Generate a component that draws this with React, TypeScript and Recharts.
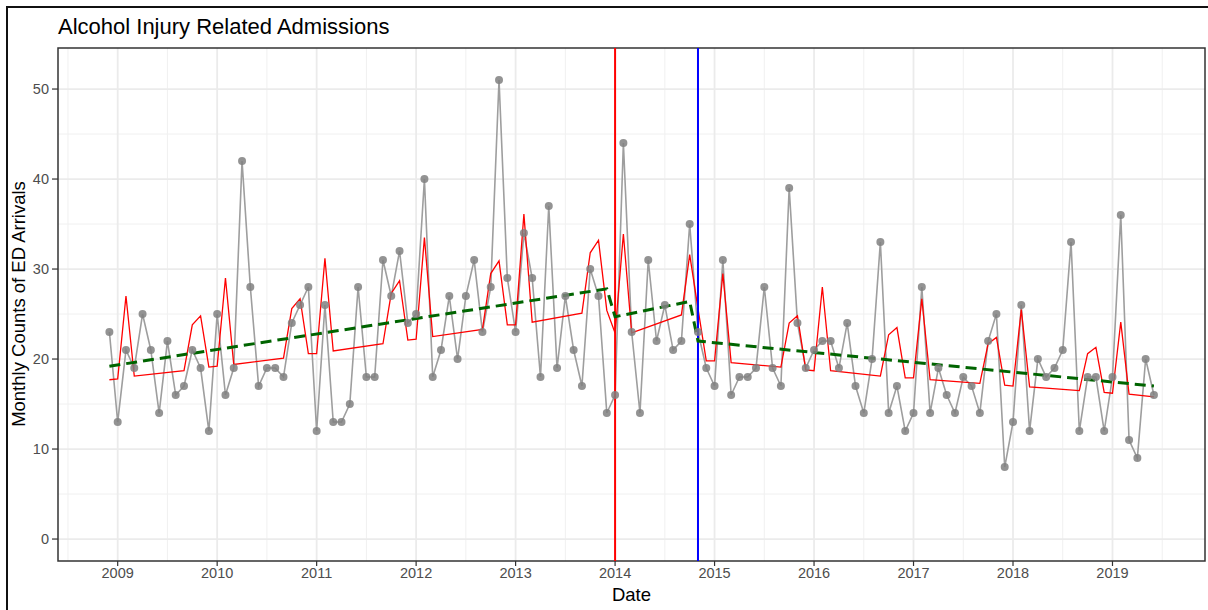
import React from 'react';
import { ComposedChart, Line, XAxis, YAxis, CartesianGrid, ReferenceLine, ReferenceArea } from 'recharts';

// monthly ED arrivals, first month is Dec 2008
const startYear = 2008;
const startMonth = 12;

const arrivals = [
  23, // 2008-12
  13, 21, 19, 25, 21, 14, 22, 16, 17, 21, 19, 12, // 2009
  25, 16, 19, 42, 28, 17, 19, 19, 18, 24, 26, 28, // 2010
  12, 26, 13, 13, 15, 28, 18, 18, 31, 27, 32, 24, // 2011
  25, 40, 18, 21, 27, 20, 27, 31, 23, 28, 51, 29, // 2012
  23, 34, 29, 18, 37, 19, 27, 21, 17, 30, 27, 14, // 2013
  16, 44, 23, 14, 31, 22, 26, 21, 22, 35, 23, 19, // 2014
  17, 31, 16, 18, 18, 19, 28, 19, 17, 39, 24, 19, // 2015
  21, 22, 22, 19, 24, 17, 14, 20, 33, 14, 17, 12, // 2016
  14, 28, 14, 19, 16, 14, 18, 17, 14, 22, 25, 8, // 2017
  13, 26, 12, 20, 18, 19, 21, 33, 12, 18, 18, 12, // 2018
  18, 36, 11, 9, 20, 16, // 2019
];

// model fit; null where the fit runs straight between neighbouring months
const fitted = [
  17.7,
  17.8, 27.0, 18.1, null, null, null, null, null, 18.7, 23.8, 24.8, 19.1,
  19.2, 29.0, 19.4, null, null, null, null, null, 20.1, 25.6, 26.7, 20.6,
  20.6, 31.2, 20.9, null, null, null, null, null, 21.7, 27.3, 28.7, 22.1,
  22.2, 33.5, 22.5, null, null, null, null, null, 23.3, 29.5, 30.9, 23.8,
  23.8, 36.1, 24.1, null, null, null, null, null, 25.1, 31.8, 33.2, 25.4,
  22.9, 33.9, 22.9, null, null, null, null, null, 24.9, 31.6, 25.6, 19.8,
  19.8, 29.5, 19.6, null, null, null, null, null, 19.1, 24.0, 24.8, 18.8,
  18.7, 28.0, 18.7, null, null, null, null, null, 18.1, 22.7, 23.5, 17.9,
  17.9, 26.7, 17.7, null, null, null, null, null, 17.3, 21.7, 22.4, 17.1,
  17.0, 25.5, 16.9, null, null, null, null, null, 16.5, 20.6, 21.3, 16.3,
  16.2, 24.1, 16.1, null, null, 15.8,
];

// segmented trend, break points only
const trendMonths = ['2008-12', '2013-12', '2014-01', '2014-10', '2014-11', '2019-06'];
const trendValues = [19.2, 27.8, 24.7, 26.4, 22.0, 17.0];

const interventionStart = '2014-01';
const interventionEnd = '2014-11';

const yearTicks = [2009, 2010, 2011, 2012, 2013, 2014, 2015, 2016, 2017, 2018, 2019];
const halfYears = [2008.5, 2009.5, 2010.5, 2011.5, 2012.5, 2013.5, 2014.5, 2015.5, 2016.5, 2017.5, 2018.5, 2019.5];
const countTicks = [0, 10, 20, 30, 40, 50];
const halfCounts = [5, 15, 25, 35, 45];

const xDomain: [number, number] = [2008.4, 2019.93];
const yDomain: [number, number] = [-2.44, 54.56];

const font = '"Liberation Sans", Arial, sans-serif';

const toYear = (y: number, m: number) => y + (m - 1) / 12;
const keyOf = (y: number, m: number) => `${y}-${String(m).padStart(2, '0')}`;
const parseKey = (k: string) => {
  const [y, m] = k.split('-').map(Number);
  return toYear(y, m);
};

const data = arrivals.map((count, i) => {
  const m0 = startMonth - 1 + i;
  const year = startYear + Math.floor(m0 / 12);
  const month = (m0 % 12) + 1;
  const ti = trendMonths.indexOf(keyOf(year, month));
  return {
    date: toYear(year, month),
    count,
    fitted: fitted[i],
    trend: ti >= 0 ? trendValues[ti] : null,
  };
});

const tickStyle = { fill: '#4d4d4d', fontSize: 14.5, fontFamily: font };

const App: React.FC = () => {
  return (
    <div style={{ position: 'absolute', left: 0, top: 0, width: 1208, height: 610, overflow: 'hidden', background: '#fff' }}>
      <div style={{ position: 'absolute', left: 6, top: 6, width: 1300, height: 700, border: '2px solid #111' }} />
      <div style={{ position: 'absolute', left: 58, top: 16, fontFamily: font, fontSize: 22, lineHeight: '22px', color: '#000', whiteSpace: 'nowrap' }}>
        Alcohol Injury Related Admissions
      </div>
      <div
        style={{
          position: 'absolute', left: 19, top: 304, fontFamily: font, fontSize: 18.5, lineHeight: '18.5px',
          color: '#000', whiteSpace: 'nowrap', transform: 'translate(-50%, -50%) rotate(-90deg)',
        }}
      >
        Monthly Counts of ED Arrivals
      </div>
      <div style={{ position: 'absolute', left: 0, top: 0 }}>
        <ComposedChart width={1208} height={610} data={data} margin={{ top: 48, right: 3, bottom: 0, left: 8 }}>
          <CartesianGrid stroke="#f0f0f0" strokeWidth={1} horizontalValues={halfCounts} verticalValues={halfYears} />
          <CartesianGrid stroke="#ebebeb" strokeWidth={1.8} horizontalValues={countTicks} verticalValues={yearTicks} />
          <XAxis
            dataKey="date"
            type="number"
            domain={xDomain}
            allowDataOverflow
            ticks={yearTicks}
            tickFormatter={(v: number) => String(v)}
            height={49}
            axisLine={false}
            tickSize={5}
            tickMargin={2}
            tickLine={{ stroke: '#333', strokeWidth: 1.2 }}
            tick={tickStyle}
            label={{ value: 'Date', position: 'insideBottom', offset: 9, fill: '#000', fontSize: 18.5, fontFamily: font }}
          />
          <YAxis
            type="number"
            domain={yDomain}
            allowDataOverflow
            ticks={countTicks}
            width={50}
            axisLine={false}
            tickSize={6}
            tickMargin={3}
            tickLine={{ stroke: '#333', strokeWidth: 1.2 }}
            tick={tickStyle}
          />
          <Line
            dataKey="count"
            stroke="#9e9e9e"
            strokeWidth={1.6}
            dot={{ r: 4, fill: '#808080', stroke: 'none', fillOpacity: 0.85 }}
            activeDot={false}
            isAnimationActive={false}
          />
          <Line dataKey="fitted" stroke="#ff0000" strokeWidth={1.3} dot={false} connectNulls activeDot={false} isAnimationActive={false} />
          <ReferenceLine x={parseKey(interventionStart)} stroke="#ff0000" strokeWidth={2} />
          <ReferenceLine x={parseKey(interventionEnd)} stroke="#0000ff" strokeWidth={2} />
          <Line
            dataKey="trend"
            stroke="#006400"
            strokeWidth={3}
            strokeDasharray="11 6"
            dot={false}
            connectNulls
            activeDot={false}
            isAnimationActive={false}
          />
          <ReferenceArea x1={xDomain[0]} x2={xDomain[1]} y1={yDomain[0]} y2={yDomain[1]} fill="none" stroke="#333" strokeWidth={1.5} />
        </ComposedChart>
      </div>
    </div>
  );
};

export default App;
